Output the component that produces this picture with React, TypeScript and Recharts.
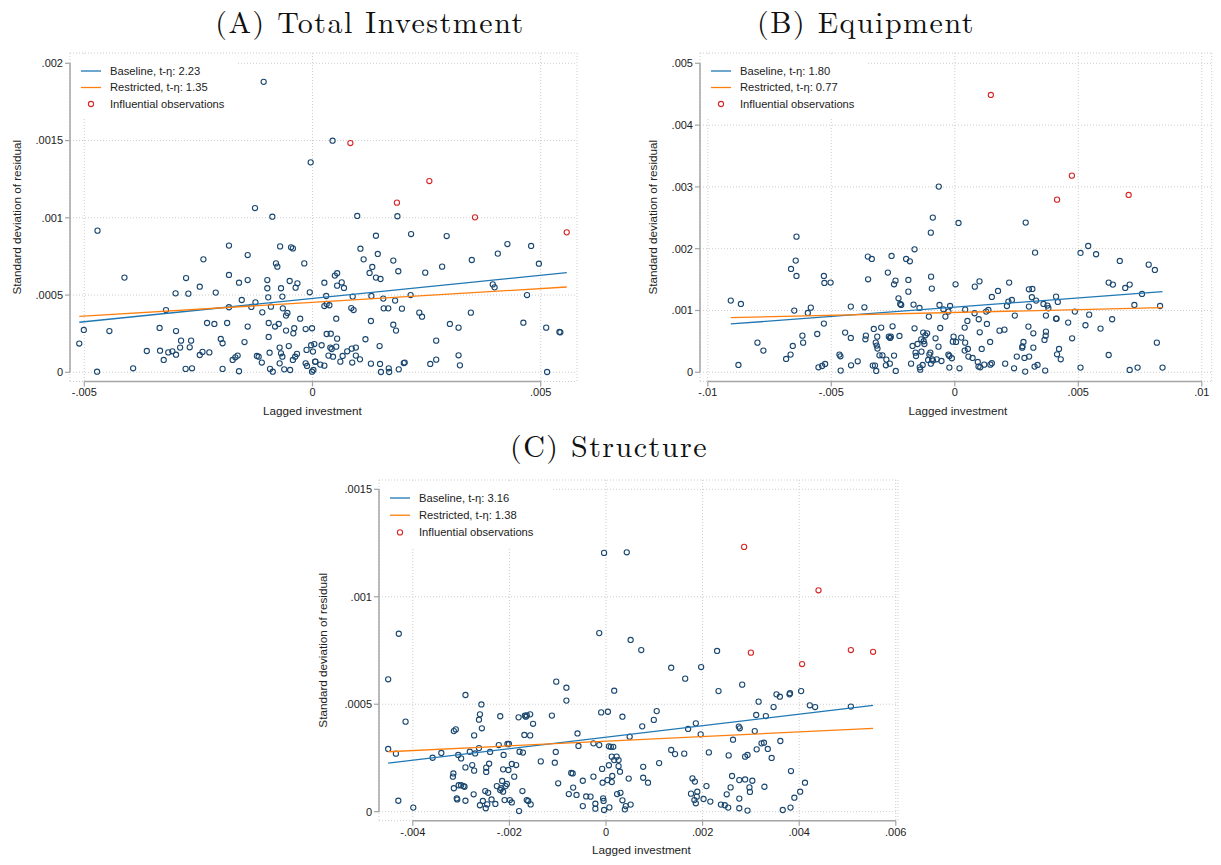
import React from "react";
import { ScatterChart, Scatter, XAxis, YAxis, CartesianGrid, ReferenceLine } from "recharts";

type Pt = [number, number];

// ---------- (A) Total Investment ----------
const totalPoints: Pt[] = [
  [-0.00511, 0.000186], [-0.00501, 0.000274], [-0.00472, 0.000004], [-0.00471, 0.000917], [-0.00445, 0.000267],
  [-0.00412, 0.000613], [-0.00393, 0.000026], [-0.00363, 0.000138], [-0.00335, 0.000287], [-0.00334, 0.00014],
  [-0.00326, 0.00008], [-0.00321, 0.000403], [-0.00316, 0.000129], [-0.00307, 0.000136], [-0.003, 0.000511],
  [-0.00299, 0.000267], [-0.00299, 0.000114], [-0.0029, 0.00016], [-0.00288, 0.000205], [-0.00278, 0.000022],
  [-0.00277, 0.00061], [-0.00272, 0.000509], [-0.00269, 0.000162], [-0.00266, 0.000205], [-0.00264, 0.000026],
  [-0.00247, 0.000554], [-0.00247, 0.000112], [-0.00241, 0.000132], [-0.00239, 0.000731], [-0.00231, 0.000319],
  [-0.00226, 0.000129], [-0.00215, 0.000313], [-0.00212, 0.000516], [-0.00201, 0.000216], [-0.00197, 0.000188],
  [-0.00197, 0.000022], [-0.00187, 0.000319], [-0.00183, 0.00082], [-0.00183, 0.00063], [-0.00183, 0.000421],
  [-0.00175, 0.00008], [-0.00169, 0.000097], [-0.00164, 0.000108], [-0.00161, 0.00058], [-0.00161, 0.000007],
  [-0.00155, 0.000468], [-0.00149, 0.000196], [-0.00142, 0.000759], [-0.00142, 0.000597], [-0.00142, 0.000296],
  [-0.00134, 0.000423], [-0.00126, 0.001063], [-0.00125, 0.000453], [-0.00122, 0.000106], [-0.00118, 0.000101],
  [-0.00111, 0.000063], [-0.0011, 0.000388], [-0.00107, 0.00188], [-0.00099, 0.000597], [-0.00099, 0.000544],
  [-0.00097, 0.000485], [-0.00096, 0.000319], [-0.00096, 0.000229], [-0.00094, 0.000127], [-0.00093, 0.000022],
  [-0.00091, 0.000425], [-0.00088, 0.001007], [-0.00087, 0.000004], [-0.00082, 0.000296], [-0.0008, 0.000705],
  [-0.00077, 0.000684], [-0.00074, 0.000313], [-0.00071, 0.000815], [-0.00072, 0.00016], [-0.00069, 0.000544],
  [-0.00066, 0.00049], [-0.00065, 0.000414], [-0.00069, 0.000123], [-0.00066, 0.000101], [-0.00072, 0.000058],
  [-0.00062, 0.000019], [-0.00058, 0.000367], [-0.00055, 0.000384], [-0.00058, 0.00027], [-0.00052, 0.00017],
  [-0.0005, 0.000591], [-0.00047, 0.000809], [-0.00043, 0.000802], [-0.00042, 0.000252], [-0.0004, 0.000285],
  [-0.00037, 0.000548], [-0.00033, 0.000576], [-0.00027, 0.000347], [-0.00043, 0.00008], [-0.00038, 0.000101],
  [-0.00034, 0.000119], [-0.00049, 0.000015], [-0.00018, 0.000705], [-0.00015, 0.00028], [-0.00013, 0.000145],
  [-0.00015, 0.000058], [-0.00012, 0.000041], [-0.00006, 0.000518], [-0.00004, 0.001359], [-0.00001, 0.000285],
  [-0.00003, 0.000175], [-0.00001, 0.000004], [0.00002, 0.000015], [0.00004, 0.000183], [0.00006, 0.000069],
  [0.00001, 0.000134], [0.00044, 0.001499], [0.00098, 0.001012], [0.00186, 0.00101], [0.00139, 0.000884],
  [0.00216, 0.000895], [0.00294, 0.000882], [0.00105, 0.0008], [0.00143, 0.000766], [0.00112, 0.000731],
  [0.00177, 0.000723], [0.00131, 0.000682], [0.00125, 0.000643], [0.00139, 0.000613], [0.00149, 0.000604],
  [0.00188, 0.000654], [0.00247, 0.000645], [0.00284, 0.000684], [0.00349, 0.000727], [0.00406, 0.000768],
  [0.00427, 0.00083], [0.00479, 0.000818], [0.00496, 0.000703], [0.00395, 0.000569], [0.00399, 0.00055],
  [0.0047, 0.0005], [0.00049, 0.000626], [0.00054, 0.000641], [0.00026, 0.00058], [0.00054, 0.000561],
  [0.00064, 0.000582], [0.00069, 0.000546], [0.0003, 0.000494], [0.00088, 0.00049], [0.00129, 0.000494],
  [0.00155, 0.000477], [0.00215, 0.0005], [0.00181, 0.000464], [0.00026, 0.000429], [0.00031, 0.000442],
  [0.00037, 0.000434], [0.00085, 0.000416], [0.0009, 0.000403], [0.00156, 0.000414], [0.00166, 0.000414],
  [0.00196, 0.000412], [0.00234, 0.000386], [0.0024, 0.00036], [0.00347, 0.000386], [0.00052, 0.000347],
  [0.00128, 0.000332], [0.00462, 0.000321], [0.00177, 0.000308], [0.00183, 0.00027], [0.00301, 0.000313],
  [0.0032, 0.000289], [0.00512, 0.000289], [0.00541, 0.000261], [0.00543, 0.000259], [0.00031, 0.000248],
  [0.0004, 0.00025], [0.00054, 0.000218], [0.00116, 0.000214], [0.00271, 0.000205], [0.0002, 0.000175],
  [0.00039, 0.00016], [0.00042, 0.000151], [0.00052, 0.000166], [0.00076, 0.000136], [0.00086, 0.000153],
  [0.00095, 0.00016], [0.00147, 0.00017], [0.00035, 0.000108], [0.00045, 0.000101], [0.00066, 0.000106],
  [0.00095, 0.000108], [0.00104, 0.000084], [0.00061, 0.000069], [0.00087, 0.000063], [0.00006, 0.000069],
  [0.00017, 0.00005], [0.00026, 0.000043], [0.00128, 0.000056], [0.00148, 0.000054], [0.0015, 0.000002],
  [0.00167, 0.000026], [0.00168, 0.000002], [0.00189, 0.000019], [0.002, 0.00006], [0.00202, 0.000063],
  [0.00258, 0.000054], [0.00271, 0.000082], [0.0032, 0.00011], [0.00323, 0.000045], [0.00514, 0.000002],
];
const totalInfluential: Pt[] = [
  [0.00083, 0.001484], [0.00185, 0.001098], [0.00256, 0.001238], [0.00356, 0.001003], [0.00557, 0.000906],
];
const totalBaseline: Pt[] = [[-0.00511, 0.000324], [0.00557, 0.000645]];
const totalRestricted: Pt[] = [[-0.00511, 0.000362], [0.00557, 0.000552]];
const totalXTicks = [-0.005, 0, 0.005];
const totalXLabels = ["-.005", "0", ".005"];
const totalYTicks = [0, 0.0005, 0.001, 0.0015, 0.002];
const totalYLabels = ["0", ".0005", ".001", ".0015", ".002"];

// ---------- (B) Equipment ----------
const equipPoints: Pt[] = [
  [-0.00907, 0.00116], [-0.00866, 0.001106], [-0.00876, 0.000119], [-0.00799, 0.00048], [-0.00775, 0.000351],
  [-0.00683, 0.000216], [-0.00665, 0.000286], [-0.00663, 0.001672], [-0.00656, 0.000426], [-0.0065, 0.000998],
  [-0.00644, 0.001807], [-0.00641, 0.002195], [-0.00641, 0.001559], [-0.00617, 0.000593], [-0.00614, 0.00048],
  [-0.00595, 0.00096], [-0.00583, 0.001046], [-0.00557, 0.00062], [-0.00552, 0.000081], [-0.00537, 0.000102],
  [-0.0053, 0.000788], [-0.0053, 0.001559], [-0.00528, 0.001446], [-0.00525, 0.000135], [-0.00503, 0.001451],
  [-0.00467, 0.000286], [-0.00463, 0.000259], [-0.00462, 0.000027], [-0.00444, 0.000642], [-0.00421, 0.001063],
  [-0.00421, 0.000556], [-0.0042, 0.000113], [-0.00393, 0.000178], [-0.00366, 0.001052], [-0.00362, 0.000534],
  [-0.0036, 0.000593], [-0.00352, 0.001872], [-0.00351, 0.001505], [-0.00336, 0.001834], [-0.00332, 0.000108],
  [-0.00328, 0.000701], [-0.00323, 0.000108], [-0.0032, 0.00048], [-0.00316, 0.000432], [-0.00313, 0.000383],
  [-0.00318, 0.000022], [-0.00314, 0.000577], [-0.00305, 0.000275], [-0.00298, 0.000723], [-0.00293, 0.000275],
  [-0.00279, 0.000113], [-0.00277, 0.000205], [-0.00271, 0.001613], [-0.00267, 0.000577], [-0.00262, 0.000556],
  [-0.00259, 0.000577], [-0.00263, 0.00014], [-0.00256, 0.001883], [-0.00252, 0.000744], [-0.00246, 0.001424],
  [-0.0024, 0.001483], [-0.00246, 0.00027], [-0.00239, 0.000022], [-0.00228, 0.001197], [-0.00224, 0.000588],
  [-0.00221, 0.001106], [-0.00217, 0.00109], [-0.00197, 0.001834], [-0.00188, 0.001494], [-0.00188, 0.001305],
  [-0.00182, 0.001796], [-0.00177, 0.00014], [-0.00171, 0.000426], [-0.00167, 0.001095], [-0.00163, 0.00199],
  [-0.00163, 0.000712], [-0.00159, 0.000318], [-0.00157, 0.000264], [-0.00151, 0.000458], [-0.00143, 0.001041],
  [-0.00142, 0.000081], [-0.0014, 0.000043], [-0.00136, 0.000534], [-0.00135, 0.000334], [-0.0013, 0.000119],
  [-0.00128, 0.000642], [-0.00126, 0.000502], [-0.00123, 0.000458], [-0.00119, 0.000599], [-0.00112, 0.000631],
  [-0.00108, 0.0002], [-0.00105, 0.000901], [-0.00103, 0.000286], [-0.00099, 0.000318], [-0.00097, 0.00226],
  [-0.00096, 0.001548], [-0.00093, 0.001354], [-0.00089, 0.002503], [-0.00092, 0.00021], [-0.00088, 0.000189],
  [-0.00097, 0.00014], [-0.00065, 0.003005], [0.00015, 0.002417], [0.00003, 0.001424], [-0.00062, 0.00109],
  [-0.00046, 0.001019], [-0.00038, 0.000901], [-0.00026, 0.000982], [-0.00019, 0.001073], [-0.00059, 0.000717],
  [-0.00078, 0.00055], [-0.00066, 0.000415], [-0.00026, 0.000286], [-0.00022, 0.000264], [-0.00012, 0.000227],
  [-0.00054, 0.000183], [-0.00073, 0.00021], [-0.00022, 0.000076], [0.00019, 0.000065], [-0.00005, 0.000577],
  [-0.00008, 0.000496], [0.00005, 0.000491], [0.00026, 0.000561], [0.00042, 0.00048], [0.0004, 0.000351],
  [0.00053, 0.000378], [0.00055, 0.000254], [0.00072, 0.000232], [0.00042, 0.001014], [0.0004, 0.000723],
  [0.00051, 0.000831], [0.00081, 0.001386], [0.001, 0.001472], [0.0008, 0.000955], [0.00097, 0.000858],
  [0.00101, 0.000647], [0.00093, 0.000167], [0.00096, 0.000092], [0.00103, 0.000081], [0.00119, 0.000124],
  [0.00109, 0.000378], [0.00127, 0.000982], [0.00136, 0.001009], [0.0013, 0.000782], [0.00143, 0.000491],
  [0.00144, 0.000124], [0.0015, 0.000146], [0.0015, 0.001219], [0.00175, 0.001316], [0.00181, 0.000674],
  [0.00201, 0.00069], [0.00204, 0.00014], [0.00211, 0.001073], [0.00217, 0.001144], [0.00231, 0.001171],
  [0.0022, 0.001451], [0.0024, 0.000065], [0.00243, 0.000917], [0.00251, 0.000254], [0.00273, 0.000399],
  [0.00274, 0.000421], [0.00278, 0.000491], [0.00282, 0.000232], [0.00285, 0.000011], [0.00287, 0.002422],
  [0.00298, 0.000739], [0.003, 0.001063], [0.003, 0.001343], [0.00314, 0.001349], [0.00301, 0.000254],
  [0.00312, 0.001214], [0.00318, 0.000631], [0.00318, 0.000399], [0.00325, 0.001936], [0.00329, 0.00116],
  [0.00323, 0.000092], [0.00335, 0.000119], [0.00359, 0.001106], [0.00375, 0.001079], [0.00379, 0.001036],
  [0.00363, 0.000523], [0.00368, 0.000593], [0.00369, 0.000658], [0.00366, 0.000027], [0.00369, 0.000917],
  [0.0041, 0.000868], [0.00412, 0.000866], [0.0041, 0.001224], [0.00417, 0.001138], [0.00414, 0.000291],
  [0.00422, 0.000378], [0.00429, 0.00021], [0.00459, 0.000804], [0.00475, 0.00055], [0.00486, 0.000982],
  [0.00509, 0.001931], [0.00509, 0.000076], [0.00529, 0.000761], [0.0054, 0.002044], [0.00544, 0.000933],
  [0.00572, 0.00191], [0.0059, 0.000707], [0.00623, 0.001451], [0.0064, 0.001419], [0.00623, 0.00028],
  [0.00637, 0.000858], [0.00668, 0.001802], [0.0069, 0.001365], [0.00708, 0.001419], [0.00708, 0.000038],
  [0.0074, 0.000076], [0.00727, 0.00109], [0.00758, 0.001268], [0.00785, 0.001742], [0.0081, 0.001656],
  [0.00818, 0.00048], [0.00831, 0.001073], [0.00841, 0.000076],
];
const equipInfluential: Pt[] = [
  [0.00146, 0.004488], [0.00414, 0.002794], [0.00474, 0.003182], [0.00704, 0.00287],
];
const equipBaseline: Pt[] = [[-0.00907, 0.000782], [0.00841, 0.001305]];
const equipRestricted: Pt[] = [[-0.00907, 0.000885], [0.00841, 0.001046]];
const equipXTicks = [-0.01, -0.005, 0, 0.005, 0.01];
const equipXLabels = ["-.01", "-.005", "0", ".005", ".01"];
const equipYTicks = [0, 0.001, 0.002, 0.003, 0.004, 0.005];
const equipYLabels = ["0", ".001", ".002", ".003", ".004", ".005"];

// ---------- (C) Structure ----------
const structPoints: Pt[] = [
  [-0.00451, 0.000616], [-0.00451, 0.000292], [-0.00435, 0.00027], [-0.00429, 0.000828], [-0.0043, 0.000051],
  [-0.00415, 0.000419], [-0.00399, 0.000019], [-0.00359, 0.000251], [-0.00341, 0.000273], [-0.00317, 0.000163],
  [-0.00316, 0.000178], [-0.00315, 0.000109], [-0.00315, 0.000375], [-0.00311, 0.000383], [-0.00309, 0.000062],
  [-0.00308, 0.000057], [-0.00306, 0.000264], [-0.003, 0.000248], [-0.00305, 0.000123], [-0.003, 0.000123],
  [-0.00295, 0.000119], [-0.00293, 0.000116], [-0.00291, 0.000543], [-0.00291, 0.000206], [-0.00291, 0.000051],
  [-0.00282, 0.000279], [-0.00277, 0.000217], [-0.00273, 0.000191], [-0.00274, 0.000081], [-0.00273, 0.000355],
  [-0.00271, 0.000271], [-0.00263, 0.000296], [-0.00263, 0.000428], [-0.00261, 0.000453], [-0.00258, 0.000499],
  [-0.00257, 0.000388], [-0.00261, 0.00003], [-0.00255, 0.00005], [-0.0025, 0.000096], [-0.00244, 0.000088],
  [-0.00248, 0.000205], [-0.00248, 0.000185], [-0.00249, 0.000016], [-0.00246, 0.000034], [-0.00242, 0.000223],
  [-0.0024, 0.000278], [-0.00237, 0.000057], [-0.00229, 0.000036], [-0.00226, 0.000119], [-0.00222, 0.00031],
  [-0.00219, 0.000444], [-0.00219, 0.000101], [-0.00217, 0.000109], [-0.00215, 0.000143], [-0.00213, 0.000197],
  [-0.00213, 0.000093], [-0.0021, 0.000054], [-0.00212, 0.000264], [-0.00208, 0.000119], [-0.00205, 0.000129],
  [-0.00204, 0.000315], [-0.00201, 0.000315], [-0.00202, 0.000194], [-0.00199, 0.000054], [-0.00195, 0.000043],
  [-0.00195, 0.000222], [-0.0019, 0.000163], [-0.00186, 0.000217], [-0.00181, 0.000439], [-0.0018, 0.000003],
  [-0.00179, 0.000279], [-0.00172, 0.000275], [-0.00173, 0.000096], [-0.00169, 0.000357], [-0.00168, 0.000447],
  [-0.00166, 0.000442], [-0.00164, 0.000448], [-0.00164, 0.000054], [-0.00161, 0.00005], [-0.00157, 0.000355],
  [-0.00157, 0.000453], [-0.00156, 0.000034], [-0.00151, 0.000409], [-0.00135, 0.000234], [-0.00112, 0.000447],
  [-0.00106, 0.000228], [-0.00104, 0.000278], [-0.00103, 0.000605], [-0.00099, 0.000132], [-0.00082, 0.000577],
  [-0.00082, 0.000517], [-0.00077, 0.000082], [-0.00072, 0.00018], [-0.00069, 0.000178], [-0.00068, 0.000112],
  [-0.00061, 0.000078], [-0.00059, 0.000364], [-0.00057, 0.000306], [-0.00048, 0.000144], [-0.00048, 0.000026],
  [-0.00041, 0.000071], [-0.00032, 0.00007], [-0.00026, 0.000163], [-0.00026, 0.000318], [-0.00022, 0.000037],
  [-0.00022, 0.000014], [-0.00014, 0.000831], [-0.00014, 0.00031], [-0.0001, 0.000462], [-0.00008, 0.000199],
  [-0.00007, 0.000135], [-0.00006, 0.000062], [-0.00005, 0.00005], [-0.00004, 0.000008], [-0.00004, 0.001204],
  [0.00043, 0.001207], [0.00051, 0.000799], [0.00073, 0.000752], [0.0023, 0.000748], [0.00135, 0.00067],
  [0.00197, 0.000673], [0.00164, 0.000619], [0.00282, 0.000591], [0.00017, 0.000563], [0.00233, 0.000561],
  [0.00316, 0.000512], [0.00353, 0.000546], [0.0036, 0.000535], [0.0038, 0.000546], [0.00381, 0.000551],
  [0.00404, 0.000561], [0.00422, 0.000495], [0.00433, 0.000487], [0.00347, 0.000487], [0.00507, 0.000489],
  [0.00004, 0.000465], [0.00034, 0.000442], [0.00105, 0.000468], [0.00099, 0.000427], [0.00186, 0.000411],
  [0.00075, 0.000397], [0.0017, 0.000385], [0.00275, 0.000396], [0.00277, 0.000388], [0.00311, 0.00045],
  [0.00331, 0.000445], [0.00308, 0.000375], [0.00196, 0.00036], [0.00049, 0.000349], [0.00263, 0.000335],
  [0.00361, 0.000329], [0.00006, 0.000304], [0.0001, 0.000302], [0.00015, 0.000302], [0.00322, 0.000318],
  [0.00327, 0.000321], [0.00312, 0.00029], [0.00335, 0.000292], [0.00135, 0.000287], [0.00143, 0.000268],
  [0.00162, 0.00027], [0.00213, 0.000276], [0.00254, 0.000262], [0.00288, 0.000256], [0.00293, 0.000264],
  [0.00343, 0.00025], [0.00012, 0.000256], [0.00022, 0.000256], [0.00017, 0.00024], [0.00026, 0.00024],
  [0.00006, 0.000216], [0.00026, 0.000212], [0.00029, 0.000186], [0.00077, 0.000209], [0.0011, 0.000226],
  [0.00013, 0.000166], [0.00003, 0.000147], [0.00012, 0.000138], [0.00047, 0.000154], [0.00077, 0.000158],
  [0.00087, 0.000135], [0.00179, 0.000155], [0.00184, 0.00014], [0.00208, 0.000119], [0.00261, 0.000166],
  [0.00258, 0.000113], [0.00276, 0.000147], [0.00288, 0.00015], [0.00297, 0.000113], [0.00298, 0.000092],
  [0.00303, 0.000144], [0.00328, 0.000116], [0.00383, 0.000189], [0.00412, 0.000135], [0.00402, 0.000093],
  [0.0039, 0.000065], [0.00382, 0.000019], [0.00366, 0.000008], [0.00023, 0.000082], [0.0003, 0.000088],
  [0.00034, 0.000053], [0.00039, 0.000011], [0.00041, 0.000026], [0.00051, 0.000033], [0.00007, 0.00002],
  [0.00176, 0.000084], [0.00183, 0.000054], [0.00186, 0.000039], [0.00189, 0.000093], [0.00188, 0.00007],
  [0.00202, 0.000059], [0.00216, 0.000047], [0.00238, 0.000033], [0.00246, 0.00003], [0.00253, 0.000019],
  [0.0025, 0.000081], [0.00276, 0.000061], [0.00276, 0.000016], [0.00293, 0.000005],
];
const structInfluential: Pt[] = [
  [0.00286, 0.001232], [0.0044, 0.00103], [0.003, 0.00074], [0.00406, 0.000687], [0.00507, 0.000752], [0.00553, 0.000744],
];
const structBaseline: Pt[] = [[-0.00451, 0.000226], [0.00553, 0.000495]];
const structRestricted: Pt[] = [[-0.00451, 0.000279], [0.00553, 0.000388]];
const structXTicks = [-0.004, -0.002, 0, 0.002, 0.004, 0.006];
const structXLabels = ["-.004", "-.002", "0", ".002", ".004", ".006"];
const structYTicks = [0, 0.0005, 0.001, 0.0015];
const structYLabels = ["0", ".0005", ".001", ".0015"];

// t-statistics shown in the legends, panels A, B, C
const baselineT = [2.23, 1.8, 3.16];
const restrictedT = [1.35, 0.77, 1.38];

const NAVY = "#1a476f";
const RED = "#d62728";
const BLUE = "#1f77b4";
const ORANGE = "#ff7f0e";
const AXIS = "#a4a4a4";
const GRID = "#cdcdcd";
const INK = "#222";
const SANS = "'Liberation Sans', Arial, Helvetica, sans-serif";
const SERIF = "'Latin Modern Roman', 'CMU Serif', 'Liberation Serif', serif";
const MARKER_R = 2.6;

const toPts = (a: Pt[]) => a.map(([x, y]) => ({ x, y }));

const fmt = (ticks: number[], labels: string[]) => (v: number) => {
  const i = ticks.findIndex((t) => Math.abs(t - v) < 1e-12);
  return i >= 0 ? labels[i] : "";
};

const ring = (color: string) => (props: any) => (
  <circle cx={props.cx} cy={props.cy} r={MARKER_R} fill="none" stroke={color} strokeWidth={1.1} />
);
const noMarker = () => <g />;

interface PanelProps {
  left: number;
  top: number;
  width: number;
  height: number;
  margin: { top: number; right: number; bottom: number; left: number };
  yAxisWidth: number;
  yLabelX: number;
  xLabelDx: number;
  xDomain: [number, number];
  yDomain: [number, number];
  xTicks: number[];
  xLabels: string[];
  yTicks: number[];
  yLabels: string[];
  points: Pt[];
  influential: Pt[];
  baseline: Pt[];
  restricted: Pt[];
  tBase: number;
  tRestr: number;
  legendWidth: number;
  legendHeight: number;
  rowGap: number;
}

function Panel(p: PanelProps) {
  const plotLeft = p.margin.left + p.yAxisWidth;
  const plotTop = p.margin.top;
  const rows = [18, 18 + p.rowGap, 18 + 2 * p.rowGap];
  const entries = [
    { label: `Baseline, t-η: ${p.tBase.toFixed(2)}`, color: BLUE, kind: "line" },
    { label: `Restricted, t-η: ${p.tRestr.toFixed(2)}`, color: ORANGE, kind: "line" },
    { label: "Influential observations", color: RED, kind: "dot" },
  ];
  return (
    <div style={{ position: "absolute", left: p.left, top: p.top, width: p.width, height: p.height }}>
      <ScatterChart width={p.width} height={p.height} margin={p.margin} style={{ fontFamily: SANS }}>
        <CartesianGrid stroke={GRID} strokeDasharray="1 2" />
        <XAxis
          type="number"
          dataKey="x"
          domain={p.xDomain}
          ticks={p.xTicks}
          interval={0}
          allowDataOverflow
          tickFormatter={fmt(p.xTicks, p.xLabels)}
          axisLine={false}
          tickLine={{ stroke: AXIS, strokeWidth: 1.2 }}
          tickSize={5}
          height={40}
          tick={{ fontSize: 11, fill: INK }}
          label={{
            value: "Lagged investment",
            position: "insideBottom",
            offset: 7,
            dx: p.xLabelDx,
            style: { fontSize: 11.7, fill: INK },
          }}
        />
        <YAxis
          type="number"
          dataKey="y"
          domain={p.yDomain}
          ticks={p.yTicks}
          interval={0}
          allowDataOverflow
          tickFormatter={fmt(p.yTicks, p.yLabels)}
          axisLine={false}
          tickLine={{ stroke: AXIS, strokeWidth: 1.2 }}
          tickSize={5}
          width={p.yAxisWidth}
          tick={{ fontSize: 11, fill: INK }}
          label={{
            value: "Standard deviation of residual",
            angle: -90,
            position: "insideLeft",
            offset: p.yLabelX,
            style: { textAnchor: "middle", fontSize: 11.7, fill: INK },
          }}
        />
        {/* axis lines run only between the outer ticks */}
        <ReferenceLine
          segment={[
            { x: p.xTicks[0], y: p.yDomain[0] },
            { x: p.xTicks[p.xTicks.length - 1], y: p.yDomain[0] },
          ]}
          stroke={AXIS}
          strokeWidth={1.5}
          ifOverflow="visible"
        />
        <ReferenceLine
          segment={[
            { x: p.xDomain[0], y: p.yTicks[0] },
            { x: p.xDomain[0], y: p.yTicks[p.yTicks.length - 1] },
          ]}
          stroke={AXIS}
          strokeWidth={1.5}
          ifOverflow="visible"
        />
        <Scatter data={toPts(p.points)} shape={ring(NAVY)} isAnimationActive={false} />
        <Scatter
          data={toPts(p.baseline)}
          line={{ stroke: BLUE, strokeWidth: 1.3 }}
          shape={noMarker}
          isAnimationActive={false}
        />
        <Scatter
          data={toPts(p.restricted)}
          line={{ stroke: ORANGE, strokeWidth: 1.3 }}
          shape={noMarker}
          isAnimationActive={false}
        />
        <Scatter data={toPts(p.influential)} shape={ring(RED)} isAnimationActive={false} />
      </ScatterChart>
      <svg
        width={p.legendWidth}
        height={p.legendHeight}
        style={{ position: "absolute", left: plotLeft + 1, top: plotTop + 1, background: "#fff" }}
      >
        {entries.map((e, i) => (
          <g key={e.label}>
            {e.kind === "line" ? (
              <line x1={10} x2={30} y1={rows[i] - 1} y2={rows[i] - 1} stroke={e.color} strokeWidth={1.3} />
            ) : (
              <circle cx={20} cy={rows[i] - 1} r={MARKER_R} fill="none" stroke={e.color} strokeWidth={1.1} />
            )}
            <text x={39} y={rows[i] - 1} dy="0.35em" fontSize={11.2} fill={INK} fontFamily={SANS}>
              {e.label}
            </text>
          </g>
        ))}
      </svg>
    </div>
  );
}

const titleStyle: React.CSSProperties = {
  position: "absolute",
  width: 400,
  textAlign: "center",
  fontFamily: SERIF,
  fontSize: 30,
  lineHeight: "36px",
  letterSpacing: 1.5,
  color: "#111",
  whiteSpace: "nowrap",
};

export default function App() {
  return (
    <div style={{ position: "absolute", left: 0, top: 0, width: 1221, height: 865, background: "#fff" }}>
      <Panel
        left={0}
        top={0}
        width={610}
        height={430}
        margin={{ top: 53, right: 33, bottom: 8.5, left: 0 }}
        yAxisWidth={70}
        yLabelX={17}
        xLabelDx={-11}
        xDomain={[-0.005313, 0.005795]}
        yDomain={[-0.0000595, 0.0020667]}
        xTicks={totalXTicks}
        xLabels={totalXLabels}
        yTicks={totalYTicks}
        yLabels={totalYLabels}
        points={totalPoints}
        influential={totalInfluential}
        baseline={totalBaseline}
        restricted={totalRestricted}
        tBase={baselineT[0]}
        tRestr={restrictedT[0]}
        legendWidth={166}
        legendHeight={63}
        rowGap={16.5}
      />
      <Panel
        left={630}
        top={0}
        width={591}
        height={430}
        margin={{ top: 53, right: 9.3, bottom: 8.5, left: 0 }}
        yAxisWidth={70}
        yLabelX={22.5}
        xLabelDx={2}
        xDomain={[-0.010316, 0.010401]}
        yDomain={[-0.000149, 0.0051667]}
        xTicks={equipXTicks}
        xLabels={equipXLabels}
        yTicks={equipYTicks}
        yLabels={equipYLabels}
        points={equipPoints}
        influential={equipInfluential}
        baseline={equipBaseline}
        restricted={equipRestricted}
        tBase={baselineT[1]}
        tRestr={restrictedT[1]}
        legendWidth={165}
        legendHeight={63}
        rowGap={16.5}
      />
      <Panel
        left={300}
        top={430}
        width={610}
        height={435}
        margin={{ top: 50, right: 12, bottom: 4.3, left: 0 }}
        yAxisWidth={79}
        yLabelX={23}
        xLabelDx={3}
        xDomain={[-0.0047, 0.006046]}
        yDomain={[-0.0000419, 0.0015433]}
        xTicks={structXTicks}
        xLabels={structXLabels}
        yTicks={structYTicks}
        yLabels={structYLabels}
        points={structPoints}
        influential={structInfluential}
        baseline={structBaseline}
        restricted={structRestricted}
        tBase={baselineT[2]}
        tRestr={restrictedT[2]}
        legendWidth={171}
        legendHeight={66}
        rowGap={17.2}
      />
      {/* panel titles sit above the chart layers */}
      <div style={{ ...titleStyle, left: 170, top: 3 }}>(A) Total Investment</div>
      <div style={{ ...titleStyle, left: 666, top: 3 }}>(B) Equipment</div>
      <div style={{ ...titleStyle, left: 409, top: 426.5 }}>(C) Structure</div>
    </div>
  );
}
